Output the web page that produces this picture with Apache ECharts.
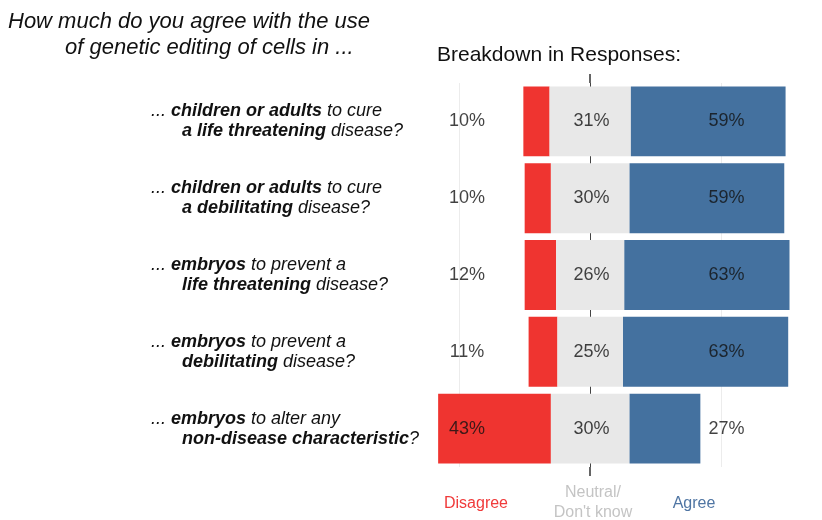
<!DOCTYPE html>
<html>
<head>
<meta charset="utf-8">
<script src="https://cdn.jsdelivr.net/npm/echarts@6/dist/echarts.min.js"></script>
<style>
  html, body { margin: 0; padding: 0; background: #fff; }
  #main { width: 822px; height: 520px; }
</style>
</head>
<body>
<div id="main"></div>
<script>
// question labels (rich text markup), top to bottom
const categories = [
  '{r|... }{b|children or adults}{r| to cure}\n{ind| }{b|a life threatening}{r| disease?}',
  '{r|... }{b|children or adults}{r| to cure}\n{ind| }{b|a debilitating}{r| disease?}',
  '{r|... }{b|embryos}{r| to prevent a}\n{ind| }{b|life threatening}{r| disease?}',
  '{r|... }{b|embryos}{r| to prevent a}\n{ind| }{b|debilitating}{r| disease?}',
  '{r|... }{b|embryos}{r| to alter any}\n{ind| }{b|non-disease characteristic}{r|?}'
]
const disagree = [10, 10, 12, 11, 43]
const neutral = [31, 30, 26, 25, 30]
const agree = [59, 59, 63, 63, 27]

const RED = '#ef3430'
const GRAY = '#e8e8e8'
const BLUE = '#44719f'
const FONT = '"Liberation Sans", Arial, sans-serif'

// the axis is shifted so the middle of the neutral block sits at CENTER
const CENTER = 100
// fixed columns where the percentage labels sit (axis units)
const DIS_LABEL_X = CENTER - 47
const NEU_LABEL_X = CENTER + 0.5
const AGR_LABEL_X = CENTER + 52

let myChart = echarts.init(document.getElementById('main'))

const labelSeries = (xVal, vals) => ({
  type: 'scatter',
  symbolSize: 0,
  z: 10,
  silent: true,
  data: vals.map((v, i) => [xVal, i, v]),
  label: {
    show: true,
    position: 'inside',
    formatter: (p) => p.value[2] + '%',
    fontFamily: FONT,
    fontSize: 18,
    color: '#111',
  },
})

// small tick at the centre line, above or below the bars
const centerTickAxis = (pos) => ({
  type: 'value',
  position: pos,
  min: 0,
  max: 180,
  interval: 50,
  axisLine: { show: false },
  axisLabel: { show: false },
  axisTick: {
    show: true,
    customValues: [CENTER],
    length: 9,
    lineStyle: { color: '#333', width: 1.5 },
  },
  splitLine: { show: false },
})

var option = {
  animation: false,
  grid: {
    top: 83,
    bottom: 53,
    left: 328,
    right: 22,
  },
  xAxis: [
    {
      type: 'value',
      position: 'bottom',
      min: 0,
      max: 180,
      interval: 50,
      axisLine: { show: false },
      axisLabel: { show: false },
      axisTick: { show: false },
      splitLine: {
        show: true,
        lineStyle: {
          color: ['rgba(0,0,0,0)', '#ececec', '#444', '#ececec', 'rgba(0,0,0,0)'],
          width: 1,
        },
      },
    },
    centerTickAxis('top'),
    centerTickAxis('bottom'),
  ],
  yAxis: {
    type: 'category',
    inverse: true,
    data: categories,
    axisLine: { show: false },
    axisTick: { show: false },
    splitLine: { show: false },
    axisLabel: {
      align: 'left',
      margin: 177,
      lineHeight: 20,
      rich: {
        r: { fontFamily: FONT, fontSize: 18, fontStyle: 'italic', color: '#111', lineHeight: 20 },
        b: { fontFamily: FONT, fontSize: 18, fontStyle: 'italic', fontWeight: 'bold', color: '#111', lineHeight: 20 },
        ind: { width: 31, fontSize: 18, lineHeight: 20 },
      },
    },
  },
  series: [
    {
      // invisible spacer so the neutral block is centred
      name: 'offset',
      type: 'bar',
      stack: 'total',
      barCategoryGap: '9%',
      silent: true,
      itemStyle: { color: 'rgba(0,0,0,0)' },
      data: neutral.map((v, i) => CENTER - v / 2 - disagree[i]),
    },
    {
      name: 'Disagree',
      type: 'bar',
      stack: 'total',
      itemStyle: { color: RED },
      data: disagree,
    },
    {
      name: 'Neutral',
      type: 'bar',
      stack: 'total',
      itemStyle: { color: GRAY },
      data: neutral,
    },
    {
      name: 'Agree',
      type: 'bar',
      stack: 'total',
      itemStyle: { color: BLUE },
      data: agree,
    },
    labelSeries(DIS_LABEL_X, disagree),
    labelSeries(NEU_LABEL_X, neutral),
    labelSeries(AGR_LABEL_X, agree),
  ],
  graphic: [
    {
      type: 'text', x: 8, y: 22,
      style: { text: 'How much do you agree with the use', font: 'italic 22px ' + FONT, fill: '#111', textVerticalAlign: 'middle' },
    },
    {
      type: 'text', x: 65, y: 48,
      style: { text: 'of genetic editing of cells in ...', font: 'italic 22px ' + FONT, fill: '#111', textVerticalAlign: 'middle' },
    },
    {
      type: 'text', x: 437, y: 55,
      style: { text: 'Breakdown in Responses:', font: '21px ' + FONT, fill: '#111', textVerticalAlign: 'middle' },
    },
    {
      type: 'text', x: 476, y: 504,
      style: { text: 'Disagree', font: '16px ' + FONT, fill: '#f03a3a', textAlign: 'center', textVerticalAlign: 'middle' },
    },
    {
      type: 'text', x: 593, y: 503,
      style: { text: 'Neutral/\nDon\'t know', font: '16px ' + FONT, fill: '#c4c4c4', textAlign: 'center', textVerticalAlign: 'middle', lineHeight: 20 },
    },
    {
      type: 'text', x: 694, y: 504,
      style: { text: 'Agree', font: '16px ' + FONT, fill: '#4f75a3', textAlign: 'center', textVerticalAlign: 'middle' },
    },
  ],
}
myChart.setOption(option)
</script>
</body>
</html>
